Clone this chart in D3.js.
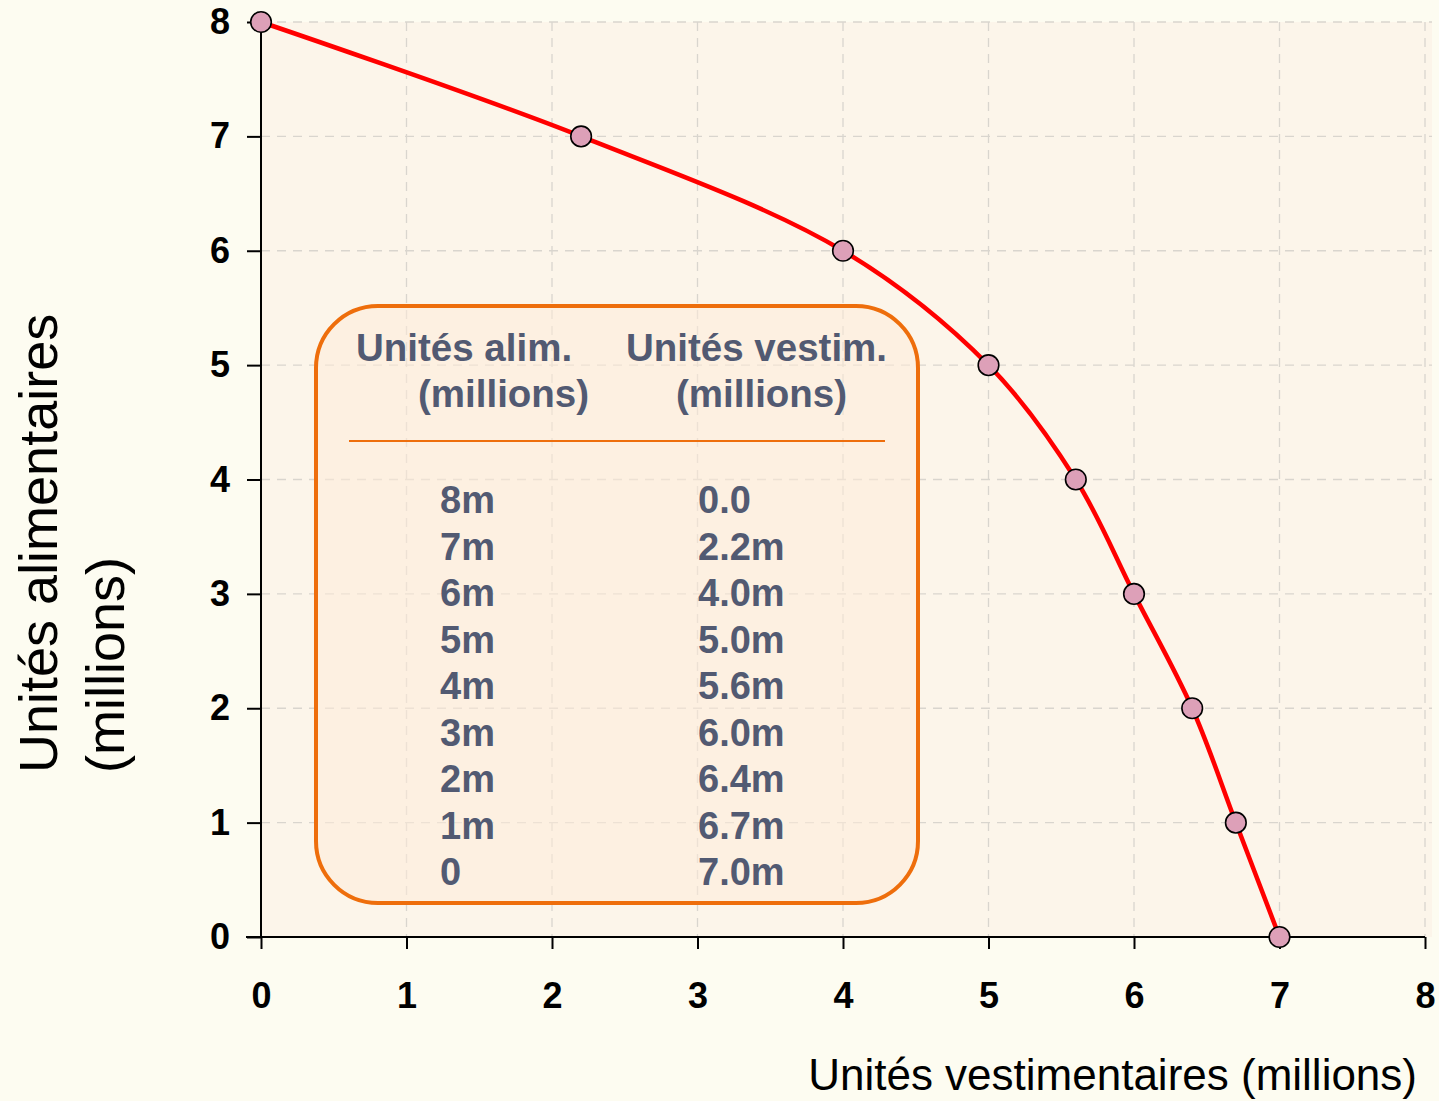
<!DOCTYPE html>
<html><head><meta charset="utf-8">
<script src="https://cdn.jsdelivr.net/npm/d3@7"></script>
<style>
html,body{margin:0;padding:0;background:#fdfcf1;}
svg{display:block;font-family:"Liberation Sans",Arial,sans-serif;}
</style></head><body>
<svg id="c" width="1439" height="1101"></svg>
<script>
const clothing = [0, 2.2, 4, 5, 5.6, 6, 6.4, 6.7, 7];
const food = [8, 7, 6, 5, 4, 3, 2, 1, 0];
const xTicks = [0,1,2,3,4,5,6,7,8];
const yTicks = [0,1,2,3,4,5,6,7,8];
const tableFood = ["8m","7m","6m","5m","4m","3m","2m","1m","0"];
const tableClothing = ["0.0","2.2m","4.0m","5.0m","5.6m","6.0m","6.4m","6.7m","7.0m"];

const svg = d3.select("#c");
const m = {l:261, r:1425, t:22, b:937};
const x = d3.scaleLinear().domain([0,8]).range([m.l, m.r]);
const y = d3.scaleLinear().domain([0,8]).range([m.b, m.t]);

// plot background
svg.append("rect").attr("x", m.l).attr("y", m.t).attr("width", 1432-m.l).attr("height", m.b-m.t).attr("fill", "#fcf5ea");

// grid
const g = svg.append("g");
g.selectAll(".gx").data(xTicks.slice(1)).join("line")
  .attr("x1", d=>x(d)).attr("x2", d=>x(d)).attr("y1", m.t).attr("y2", m.b)
  .attr("stroke", "#d9d5ce").attr("stroke-width", 1.3).attr("stroke-dasharray", "9,7");
g.selectAll(".gy").data(yTicks.slice(1)).join("line")
  .attr("x1", m.l).attr("x2", 1432).attr("y1", d=>y(d)).attr("y2", d=>y(d))
  .attr("stroke", "#d9d5ce").attr("stroke-width", 1.3).attr("stroke-dasharray", "9,7");

// table box
svg.append("rect").attr("x", 316).attr("y", 306).attr("width", 602).attr("height", 597).attr("rx", 62)
  .attr("fill", "#fdebd8").attr("fill-opacity", 0.55).attr("stroke", "#ee6e0c").attr("stroke-width", 4);
svg.append("line").attr("x1", 349).attr("x2", 885).attr("y1", 441).attr("y2", 441)
  .attr("stroke", "#ee6e0c").attr("stroke-width", 2);
const tc = "#525a72";
const hdr = svg.append("g").attr("fill", tc).attr("font-weight", "bold").attr("font-size", 38.5);
hdr.append("text").attr("x", 356).attr("y", 361).text("Unités alim.");
hdr.append("text").attr("x", 418).attr("y", 407).text("(millions)");
hdr.append("text").attr("x", 626).attr("y", 361).text("Unités vestim.");
hdr.append("text").attr("x", 676).attr("y", 407).text("(millions)");
const rows = svg.append("g").attr("fill", tc).attr("font-weight", "bold").attr("font-size", 38);
rows.selectAll(".tf").data(tableFood).join("text").attr("x", 440).attr("y", (d,i)=>513 + i*46.5).text(d=>d);
rows.selectAll(".tcl").data(tableClothing).join("text").attr("x", 698).attr("y", (d,i)=>513 + i*46.5).text(d=>d);

// axes
const xa = svg.append("g").attr("transform", `translate(0,${m.b})`)
  .call(d3.axisBottom(x).tickValues(xTicks).tickSize(12).tickPadding(33).tickFormat(d3.format("d")));
xa.select(".domain").remove();
xa.append("line").attr("x1", 246).attr("x2", m.r).attr("stroke", "#000").attr("stroke-width", 2);
xa.selectAll(".tick line").attr("stroke-width", 2);
xa.selectAll(".tick text").attr("font-size", 36).attr("font-weight", "bold").attr("fill", "#000")
  .attr("font-family", '"Liberation Sans",Arial,sans-serif');

const ya = svg.append("g").attr("transform", `translate(${m.l},0)`)
  .call(d3.axisLeft(y).tickValues(yTicks).tickSize(14).tickPadding(17).tickFormat(d3.format("d")));
ya.select(".domain").remove();
ya.append("line").attr("y1", m.t).attr("y2", m.b).attr("stroke", "#000").attr("stroke-width", 2);
ya.selectAll(".tick line").attr("stroke-width", 2);
ya.selectAll(".tick text").attr("font-size", 36).attr("font-weight", "bold").attr("fill", "#000")
  .attr("font-family", '"Liberation Sans",Arial,sans-serif');

// curve
const pts = clothing.map((c,i)=>[c, food[i]]);
const line = d3.line().x(d=>x(d[0])).y(d=>y(d[1])).curve(d3.curveCatmullRom.alpha(0.5));
svg.append("path").attr("d", line(pts)).attr("fill", "none").attr("stroke", "#ff0000").attr("stroke-width", 4.5);
svg.selectAll(".pt").data(pts).join("circle")
  .attr("cx", d=>x(d[0])).attr("cy", d=>y(d[1])).attr("r", 10.3)
  .attr("fill", "#dda0b8").attr("stroke", "#000").attr("stroke-width", 1.6);

// axis titles
svg.append("text").attr("x", 1417).attr("y", 1090).attr("text-anchor", "end")
  .attr("font-size", 44).attr("fill", "#000").text("Unités vestimentaires (millions)");
const yt = svg.append("text").attr("transform", "translate(57,773) rotate(-90)")
  .attr("font-size", 54).attr("fill", "#000");
yt.append("tspan").attr("x", 0).attr("y", 0).text("Unités alimentaires");
yt.append("tspan").attr("x", 0).attr("y", 67).text("(millions)");
</script>
</body></html>
